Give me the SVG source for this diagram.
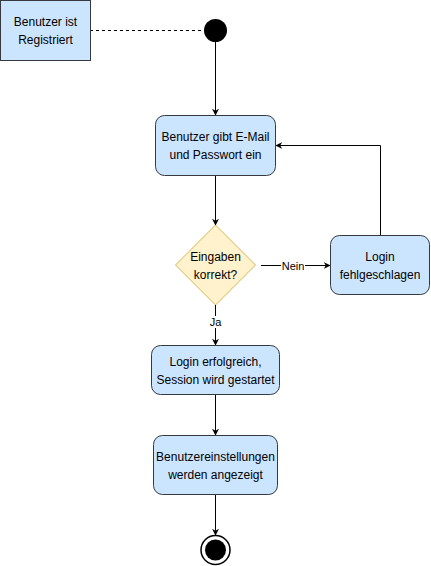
<svg xmlns="http://www.w3.org/2000/svg" width="431" height="566" viewBox="0 0 431 566">
<defs>
<style>
.box{fill:#cce5ff;stroke:#36393d;stroke-width:1}
.dia{fill:#fff2cc;stroke:#d6b656;stroke-width:1}
.t{font-family:"Liberation Sans",Arial,sans-serif;font-size:12px;fill:#000;text-anchor:middle}
.lbl{font-family:"Liberation Sans",Arial,sans-serif;font-size:11px;fill:#000;text-anchor:middle}
.c{fill:none;stroke:#000;stroke-width:1}
</style>
<marker id="ah" viewBox="0 0 10 10" refX="9" refY="5" markerWidth="7" markerHeight="7" orient="auto" markerUnits="userSpaceOnUse">
<path d="M0,0 L10,5 L0,10 L3,5 Z" fill="#000"/>
</marker>
</defs>
<rect width="431" height="566" fill="#fff"/>
<g id="connectors">
<line class="c" x1="90" y1="30.5" x2="204" y2="30.5" stroke-dasharray="3,3"/>
<line class="c" x1="215.5" y1="42" x2="215.5" y2="115" marker-end="url(#ah)"/>
<line class="c" x1="215.5" y1="175" x2="215.5" y2="225" marker-end="url(#ah)"/>
<line class="c" x1="261" y1="265.5" x2="330" y2="265.5" marker-end="url(#ah)"/>
<path class="c" d="M380.5,235 L380.5,145.5 L276,145.5" marker-end="url(#ah)"/>
<line class="c" x1="215.5" y1="305" x2="215.5" y2="345" marker-end="url(#ah)"/>
<line class="c" x1="215.5" y1="395" x2="215.5" y2="435" marker-end="url(#ah)"/>
<line class="c" x1="215.5" y1="495" x2="215.5" y2="535" marker-end="url(#ah)"/>
<rect x="281" y="260" width="24" height="12" fill="#fff"/>
<text class="lbl" x="293" y="269.5">Nein</text>
<rect x="207" y="316" width="17" height="12" fill="#fff"/>
<text class="lbl" x="215.5" y="326">Ja</text>
</g>
<g id="note">
<rect class="box" x="0.5" y="0.5" width="90" height="60"/>
<text class="t" x="45.5" y="26">Benutzer ist</text>
<text class="t" x="45.5" y="44">Registriert</text>
</g>
<g id="start">
<circle cx="215.5" cy="30.5" r="11.5" fill="#000"/>
</g>
<g id="eingabe">
<rect class="box" x="155.5" y="115.5" width="120" height="60" rx="9"/>
<text class="t" x="215.5" y="141">Benutzer gibt E-Mail</text>
<text class="t" x="215.5" y="159">und Passwort ein</text>
</g>
<g id="pruefung">
<polygon class="dia" points="215.5,225 255.5,265 215.5,305 175.5,265"/>
<text class="t" x="215.5" y="261">Eingaben</text>
<text class="t" x="215.5" y="279">korrekt?</text>
</g>
<g id="fehler">
<rect class="box" x="330.5" y="235.5" width="99" height="59" rx="9"/>
<text class="t" x="380" y="261">Login</text>
<text class="t" x="380" y="279">fehlgeschlagen</text>
</g>
<g id="erfolg">
<rect class="box" x="151.5" y="345.5" width="128" height="49" rx="9"/>
<text class="t" x="215.5" y="366">Login erfolgreich,</text>
<text class="t" x="215.5" y="384">Session wird gestartet</text>
</g>
<g id="einstellungen">
<rect class="box" x="153.5" y="435.5" width="124" height="59" rx="9"/>
<text class="t" x="215.5" y="461">Benutzereinstellungen</text>
<text class="t" x="215.5" y="479">werden angezeigt</text>
</g>
<g id="ende">
<circle cx="215.5" cy="550" r="14.5" fill="#fff" stroke="#000" stroke-width="1.5"/>
<circle cx="215.5" cy="550" r="10.5" fill="#000"/>
</g>
</svg>
